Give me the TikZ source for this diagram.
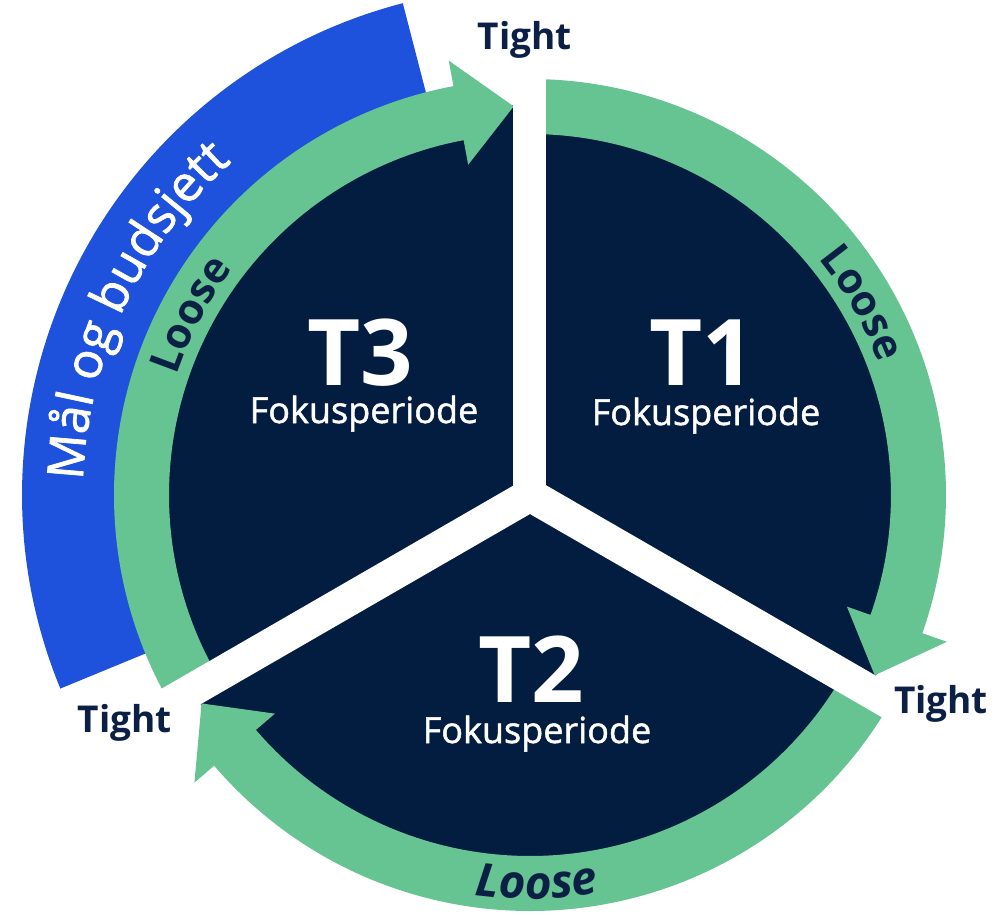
\documentclass[tikz,border=0pt]{standalone}
\usepackage{fontspec}
\setmainfont{Open Sans}
\newfontfamily\semifont[FakeBold=1.4]{Open Sans}
\usetikzlibrary{decorations.text}

\definecolor{pienavy}{RGB}{2,29,64}
\definecolor{loopgreen}{RGB}{102,196,146}
\definecolor{budgetblue}{RGB}{30,82,220}
\definecolor{labelnavy}{RGB}{12,32,70}

\newcommand{\loosefont}{\fontsize{42}{42}\selectfont\bfseries\upshape}
\newcommand{\budgetfont}{\semifont\fontsize{50}{50}\selectfont\upshape}

% green loop arrow: start angle, head base angle, tip angle
\newcommand{\looparrow}[3]{%
  \fill[loopgreen] (#1:416) arc[start angle=#1, end angle=#2, radius=416]
    -- (#2:442) -- (#3:389) -- (#2:336) -- (#2:361)
    arc[start angle=#2, end angle=#1, radius=361] -- cycle;}

\tikzset{
  period/.style={text=white, font=\fontsize{92}{92}\selectfont\bfseries, inner sep=0pt, anchor=base},
  focus/.style={text=white, font=\semifont\fontsize{36}{36}\selectfont, inner sep=0pt, anchor=base},
  tight/.style={text=labelnavy, font=\fontsize{37}{37}\selectfont\bfseries, inner sep=0pt, anchor=base},
  arctext/.style={decorate, decoration={text along path, text align=center, text color=#1}},
}

\begin{document}
\begin{tikzpicture}[x=1pt,y=1pt]
  \useasboundingbox (-530,-419) rectangle (466,495);

  %Shape: budget band
  \fill[budgetblue] (104.5:410) arc[start angle=104.5, end angle=202.4, radius=410]
    -- (202.4:508) arc[start angle=202.4, end angle=104.5, radius=508] -- cycle;

  %Shape: pie
  \fill[pienavy] (0,0) circle (390);

  %Shape: loop arrows
  \looparrow{90}{-19.4}{-27.6}
  \looparrow{-30}{-139.4}{-147.6}
  \looparrow{210}{100.6}{92.4}

  %Shape: gaps between the periods
  \foreach \a in {90,210,330}
    \fill[white, rotate=\a] (0,-16.5) rectangle (440,16.5);
  \fill[white] (0,0) circle (16.5);

  % Text Node
  \node[period] (t1) at (172,110) {T1};
  \node[focus] (t1focus) at (176,70) {Fokusperiode};
  \node[period] (t2) at (1,-207) {T2};
  \node[focus] (t2focus) at (7,-248) {Fokusperiode};
  \node[period] (t3) at (-170,110) {T3};
  \node[focus] (t3focus) at (-166,72) {Fokusperiode};

  % Text Node
  \node[tight] (tighttop) at (-5,445) {Tight};
  \node[tight] (tightright) at (411,-218) {Tight};
  \node[tight] (tightleft) at (-405,-237) {Tight};

  % Text along the arcs
  \path[arctext=labelnavy, decoration={text={|\loosefont|Loose}}]
    (60:373) arc[start angle=60, end angle=0, radius=373];
  \path[arctext=labelnavy, decoration={text={|\fontsize{46}{46}\selectfont\bfseries\itshape|Loose}}]
    (-119:404) arc[start angle=-119, end angle=-59, radius=404];
  \path[arctext=labelnavy, decoration={text={|\loosefont|Loose}}]
    (182:373) arc[start angle=182, end angle=122, radius=373];
  \path[arctext=white, decoration={text={|\budgetfont|Mål og budsjett}}]
    (200:447) arc[start angle=200, end angle=110, radius=447];
\end{tikzpicture}
\end{document}
